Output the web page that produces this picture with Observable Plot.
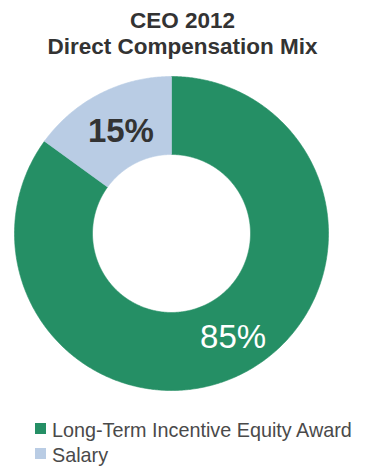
<!DOCTYPE html>
<html>
<head>
<meta charset="utf-8">
<script src="https://cdn.jsdelivr.net/npm/d3@7"></script>
<script src="https://cdn.jsdelivr.net/npm/@observablehq/plot@0.6"></script>
<style>
  html, body { margin: 0; padding: 0; background: #fff; }
  body { width: 365px; font-family: "Liberation Sans", Arial, Helvetica, sans-serif; }
  .title { height: 60px; box-sizing: border-box; padding-top: 8px; text-align: center;
           font-weight: bold; font-size: 22.5px; line-height: 26px; color: #333; }
  .legend { margin-top: 8px; padding-left: 35px; }
  .row { height: 25px; display: flex; align-items: center; font-size: 19.8px; color: #4a4a4a; white-space: nowrap; }
  .sw { width: 11px; height: 11px; margin-right: 6px; position: relative; top: -2px; flex: none; }
  #chart svg { display: block; }
</style>
</head>
<body>
<div class="title">CEO 2012<br>Direct Compensation Mix</div>
<div id="chart"></div>
<div class="legend" id="legend"></div>
<script>
const categories = ["Long-Term Incentive Equity Award", "Salary"];
const shares = [85, 15];
const labels = ["85%", "15%"];
const colors = ["#258f65", "#b9cce4"];
const labelColors = ["#ffffff", "#333333"];

const outerR = 157, innerR = 79, labelR = 118;
const W = 365, H = 350, CX = 171, CY = 173;

const pie = d3.pie().sort(null).value(d => d.share);
const rows = categories.map((c, i) => ({category: c, share: shares[i], label: labels[i], color: colors[i], labelColor: labelColors[i]}));
const arcs = pie(rows);

function ringPoints(a) {
  const pts = [];
  const n = Math.max(2, Math.ceil((a.endAngle - a.startAngle) / (Math.PI / 360)));
  for (let k = 0; k <= n; k++) {
    const t = a.startAngle + (a.endAngle - a.startAngle) * k / n;
    pts.push({x: outerR * Math.sin(t), y: outerR * Math.cos(t)});
  }
  for (let k = n; k >= 0; k--) {
    const t = a.startAngle + (a.endAngle - a.startAngle) * k / n;
    pts.push({x: innerR * Math.sin(t), y: innerR * Math.cos(t)});
  }
  pts.push(pts[0]);
  return pts;
}

const labelPts = arcs.map(a => {
  const m = (a.startAngle + a.endAngle) / 2;
  return {x: labelR * Math.sin(m), y: labelR * Math.cos(m), text: a.data.label};
});

const marks = [];
arcs.forEach(a => {
  marks.push(Plot.line(ringPoints(a), {x: "x", y: "y", fill: a.data.color, stroke: a.data.color, strokeWidth: 0.6, curve: "linear"}));
});
marks.push(Plot.text([labelPts[1]], {x: "x", y: "y", text: "text", fill: labelColors[1], fontSize: 33, fontWeight: "bold", dx: 3, dy: 3}));
marks.push(Plot.text([labelPts[0]], {x: "x", y: "y", text: "text", fill: labelColors[0], fontSize: 33, fontWeight: "normal", dx: 8, dy: -1}));

const plot = Plot.plot({
  width: W, height: H,
  margin: 0,
  x: {domain: [-CX, W - CX], axis: null},
  y: {domain: [-(H - CY), CY], axis: null},
  style: {fontFamily: "'Liberation Sans', Arial, Helvetica, sans-serif", background: "white"},
  marks
});
document.getElementById("chart").appendChild(plot);

const legend = document.getElementById("legend");
categories.forEach((c, i) => {
  const row = document.createElement("div");
  row.className = "row";
  const sw = document.createElement("span");
  sw.className = "sw";
  sw.style.background = colors[i];
  const tx = document.createElement("span");
  tx.textContent = c;
  row.appendChild(sw); row.appendChild(tx);
  legend.appendChild(row);
});
</script>
</body>
</html>
